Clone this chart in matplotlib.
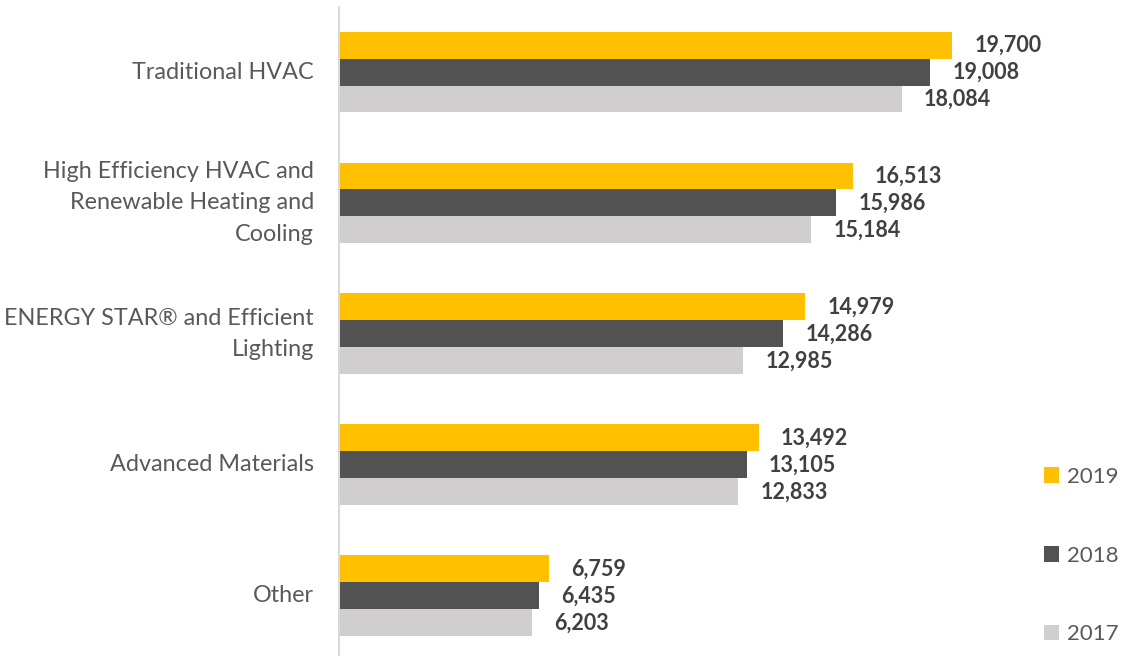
"""Clean energy jobs by technology category, 2017-2019."""

import matplotlib

matplotlib.use("Agg")

import matplotlib.pyplot as plt
import numpy as np


CATEGORIES = [
    "Traditional HVAC",
    "High Efficiency HVAC and\nRenewable Heating and\nCooling",
    "ENERGY STAR\u00ae and Efficient\nLighting",
    "Advanced Materials",
    "Other",
]
YEARS = ["2019", "2018", "2017"]
JOBS_2019 = [19700, 16513, 14979, 13492, 6759]
JOBS_2018 = [19008, 15986, 14286, 13105, 6435]
JOBS_2017 = [18084, 15184, 12985, 12833, 6203]

COLORS = {"2019": "#FFC000", "2018": "#525252", "2017": "#D0CECE"}
FONT = ["Lato", "DejaVu Sans"]


def main() -> None:
    plt.rcParams["font.family"] = FONT
    fig = plt.figure(figsize=(11.25, 6.56), dpi=100)
    ax = fig.add_axes([0.3013, -0.008, 0.6085, 0.998])

    y = np.arange(len(CATEGORIES))
    h = 0.206
    series = {"2019": JOBS_2019, "2018": JOBS_2018, "2017": JOBS_2017}
    offsets = {"2019": -h, "2018": 0.0, "2017": h}
    for year in YEARS:
        bars = ax.barh(y + offsets[year], series[year], height=h, color=COLORS[year], label=year)
        ax.bar_label(
            bars,
            labels=[f"{v:,}" for v in series[year]],
            padding=16,
            fontsize=15.5,
            fontweight="bold",
            color="#404040",
        )

    ax.set_xlim(0, 22000)
    ax.set_ylim(len(CATEGORIES) - 0.5, -0.5)
    ax.set_yticks(y)
    ax.set_yticklabels(CATEGORIES, fontsize=16.8, color="#595959", ha="right", va="center", linespacing=1.6)
    ax.tick_params(axis="y", length=0, pad=18)
    ax.set_xticks([])
    for side in ("top", "right", "bottom"):
        ax.spines[side].set_visible(False)
    ax.spines["left"].set_color("#D9D9D9")
    ax.spines["left"].set_linewidth(1.5)

    ax.legend(
        loc="lower left",
        bbox_to_anchor=(1035 / 1125, 0.004),
        bbox_transform=fig.transFigure,
        frameon=False,
        fontsize=16,
        labelcolor="#595959",
        handlelength=0.7,
        handleheight=0.7,
        handletextpad=0.35,
        labelspacing=2.65,
        borderaxespad=0.0,
    )

    fig.savefig("out.png", dpi=100, facecolor="white")
    plt.close(fig)


if __name__ == "__main__":
    main()
